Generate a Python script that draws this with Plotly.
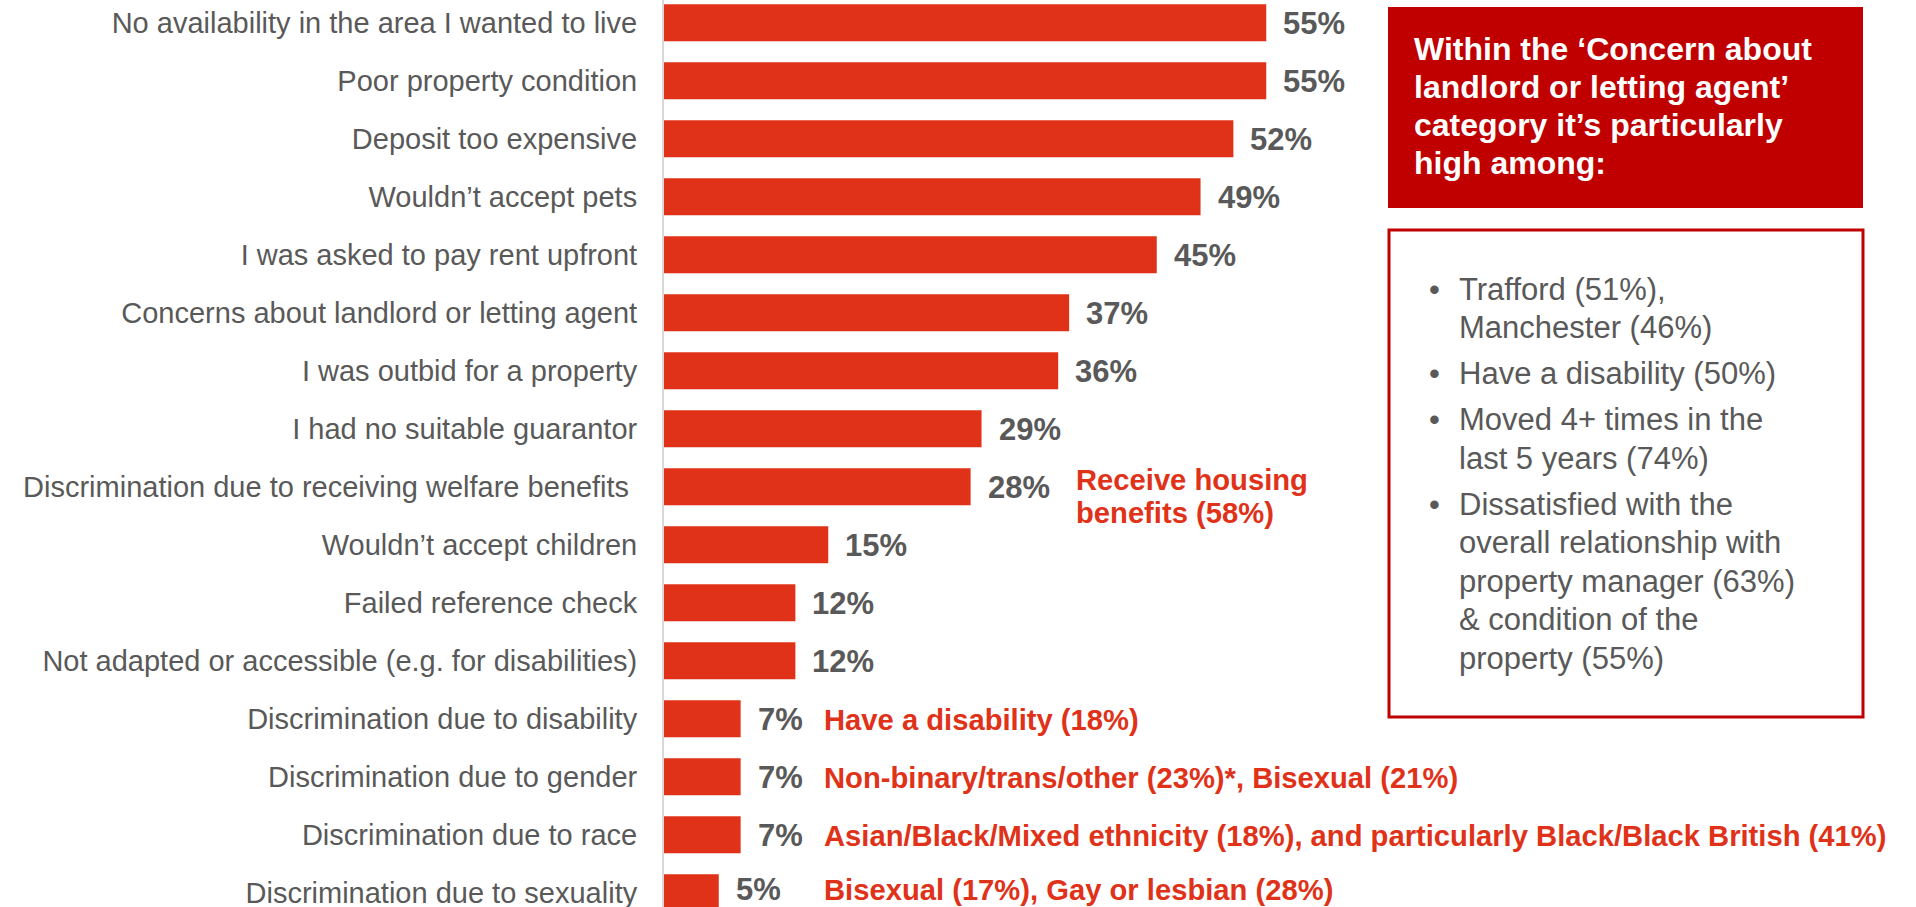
import plotly.graph_objects as go

# Survey results: reasons people had difficulty renting (share of respondents, %)
reasons = [
    "No availability in the area I wanted to live",
    "Poor property condition",
    "Deposit too expensive",
    "Wouldn’t accept pets",
    "I was asked to pay rent upfront",
    "Concerns about landlord or letting agent",
    "I was outbid for a property",
    "I had no suitable guarantor",
    "Discrimination due to receiving welfare benefits\u00a0",
    "Wouldn’t accept children",
    "Failed reference check",
    "Not adapted or accessible (e.g. for disabilities)",
    "Discrimination due to disability",
    "Discrimination due to gender",
    "Discrimination due to race",
    "Discrimination due to sexuality",
]
shares = [55, 55, 52, 49, 45, 37, 36, 29, 28, 15, 12, 12, 7, 7, 7, 5]

# Sub-group call-outs shown next to selected bars (category index -> lines)
subgroup_notes = {
    8: ["Receive housing", "benefits (58%)"],
    12: ["Have a disability (18%)"],
    13: ["Non-binary/trans/other (23%)*, Bisexual (21%)"],
    14: ["Asian/Black/Mixed ethnicity (18%), and particularly Black/Black British (41%)"],
    15: ["Bisexual (17%), Gay or lesbian (28%)"],
}

panel_title = ["Within the ‘Concern about", "landlord or letting agent’",
               "category it’s particularly", "high among:"]
panel_bullets = [
    ["Trafford (51%),", "Manchester (46%)"],
    ["Have a disability (50%)"],
    ["Moved 4+ times in the", "last 5 years (74%)"],
    ["Dissatisfied with the", "overall relationship with",
     "property manager (63%)", "& condition of the", "property (55%)"],
]

W, H = 1916, 907
BAR = "#E03219"
DARK_RED = "#C00000"
GREY = "#595959"
FONT = "Liberation Sans, Arial, sans-serif"

ids = list(range(len(reasons)))
last = ids[-1]

fig = go.Figure(go.Bar(
    x=shares, y=ids, orientation="h",
    marker=dict(color=BAR, line=dict(width=0)),
    hoverinfo="skip",
))

def px_x(p):
    return p / W

def px_y(p):
    return 1 - p / H

annotations = []
# value labels beside each bar (bottom row nudged up so it stays inside the page)
for i, v in zip(ids, shares):
    annotations.append(dict(
        x=v, y=i, xref="x", yref="y", text=f"<b>{v}%</b>", showarrow=False,
        xanchor="left", yanchor="middle", xshift=15,
        yshift=3 if i == last else -1,
        font=dict(family=FONT, size=31, color=GREY),
    ))

# sub-group call-outs
note_x = px_x(822)
for i, lines in subgroup_notes.items():
    if len(lines) == 1:
        annotations.append(dict(
            x=note_x, y=i, xref="paper", yref="y", text=f"<b>{lines[0]}</b>",
            showarrow=False, xanchor="left", yanchor="middle",
            yshift=3 if i == last else -1,
            font=dict(family=FONT, size=29.2, color=BAR),
        ))
    else:
        for k, line in enumerate(lines):
            annotations.append(dict(
                x=px_x(1074), y=i, xref="paper", yref="y", text=f"<b>{line}</b>",
                showarrow=False, xanchor="left", yanchor="middle",
                yshift=6.7 - k * 33,
                font=dict(family=FONT, size=29.2, color=BAR),
            ))

# title panel text (white on dark red)
for k, line in enumerate(panel_title):
    annotations.append(dict(
        x=px_x(1412), y=px_y(49 + k * 38.1), xref="paper", yref="paper",
        text=f"<b>{line}</b>", showarrow=False, xanchor="left", yanchor="middle",
        font=dict(family=FONT, size=32, color="white"),
    ))

# bullet list panel
y_line = 289
for group in panel_bullets:
    annotations.append(dict(
        x=px_x(1427), y=px_y(y_line), xref="paper", yref="paper",
        text="•", showarrow=False, xanchor="left", yanchor="middle",
        font=dict(family=FONT, size=31, color=GREY),
    ))
    for line in group:
        annotations.append(dict(
            x=px_x(1457), y=px_y(y_line), xref="paper", yref="paper",
            text=line, showarrow=False, xanchor="left", yanchor="middle",
            font=dict(family=FONT, size=31, color=GREY),
        ))
        y_line += 38.5
    y_line += 7.5

shapes = [
    dict(type="rect", xref="paper", yref="paper",
         x0=px_x(1388), x1=px_x(1863), y0=px_y(7), y1=px_y(208),
         fillcolor=DARK_RED, line=dict(width=0), layer="below"),
    dict(type="rect", xref="paper", yref="paper",
         x0=px_x(1389), x1=px_x(1863), y0=px_y(230), y1=px_y(717),
         fillcolor="rgba(0,0,0,0)", line=dict(color=DARK_RED, width=3)),
]

x0_px = 664
px_per_pct = 10.95
pitch = 58.0
first_center = 22.7

fig.update_layout(
    width=W, height=H,
    margin=dict(l=0, r=0, t=0, b=0),
    paper_bgcolor="white", plot_bgcolor="white",
    showlegend=False,
    bargap=0.36,
    xaxis=dict(domain=[x0_px / W, 1], range=[0, (W - x0_px) / px_per_pct],
               visible=False, fixedrange=True),
    yaxis=dict(
        domain=[0, 1],
        range=[(H - first_center) / pitch, -first_center / pitch],
        tickmode="array", tickvals=ids, ticktext=reasons,
        tickfont=dict(family=FONT, size=29, color=GREY),
        ticks="", showgrid=False, zeroline=False,
        showline=True, linecolor="#D9D9D9", linewidth=2,
        ticklabelstandoff=19, ticklabeloverflow="allow",
        automargin=False, fixedrange=True,
    ),
    annotations=annotations,
    shapes=shapes,
    font=dict(family=FONT, color=GREY),
)

fig.write_html("out.html")
